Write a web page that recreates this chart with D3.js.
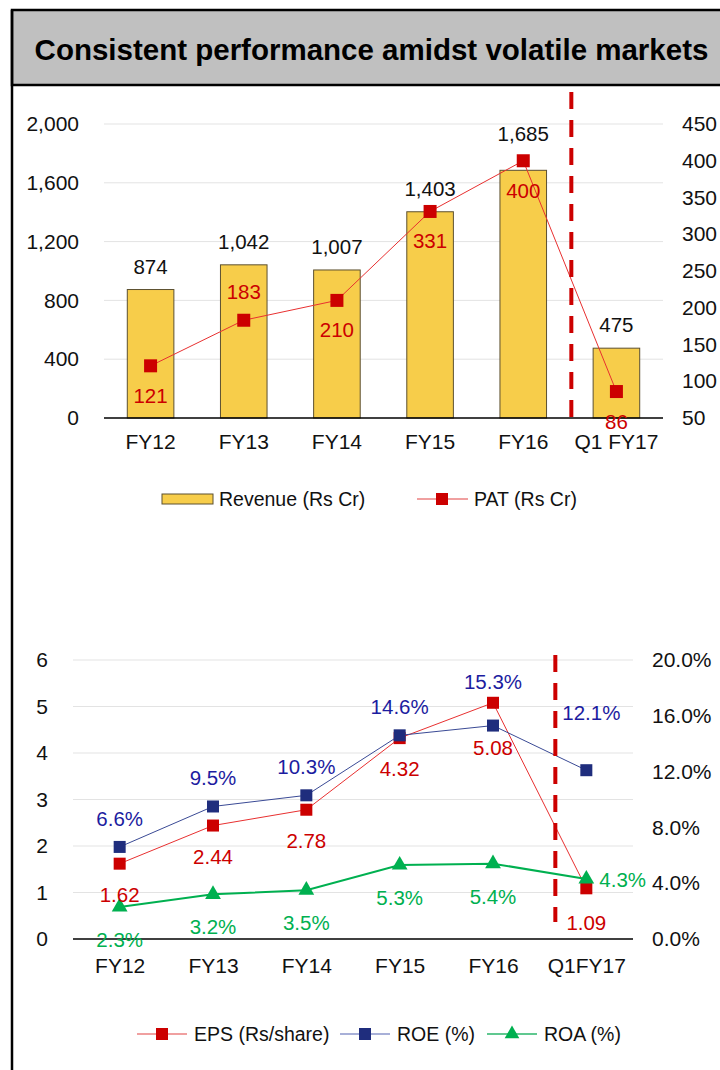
<!DOCTYPE html>
<html>
<head>
<meta charset="utf-8">
<script src="https://cdn.jsdelivr.net/npm/d3@7"></script>
<style>
  body { margin: 0; background: #fff; }
  text { font-family: "Liberation Sans", Arial, sans-serif; }
</style>
</head>
<body>
<div id="chart"></div>
<script>
// data
var titleText = "Consistent performance amidst volatile markets";

var topCats = ["FY12", "FY13", "FY14", "FY15", "FY16", "Q1 FY17"];
var revenue = [874, 1042, 1007, 1403, 1685, 475];
var pat = [121, 183, 210, 331, 400, 86];
var revTicks = [0, 400, 800, 1200, 1600, 2000];
var patTicks = [50, 100, 150, 200, 250, 300, 350, 400, 450];

var botCats = ["FY12", "FY13", "FY14", "FY15", "FY16", "Q1FY17"];
var eps = [1.62, 2.44, 2.78, 4.32, 5.08, 1.09];
var roe = [6.6, 9.5, 10.3, 14.6, 15.3, 12.1];
var roa = [2.3, 3.2, 3.5, 5.3, 5.4, 4.3];
var epsTicks = [0, 1, 2, 3, 4, 5, 6];
var pctTicks = [0, 4, 8, 12, 16, 20];

var RED = "#cc0000", NAVY = "#1f2d7d", GREEN = "#00b050", YELLOW = "#f7cd4a";

var svg = d3.select("#chart").append("svg")
  .attr("width", 720)
  .attr("height", 1070)
  .style("display", "block");

svg.append("rect").attr("width", 720).attr("height", 1070).attr("fill", "#fff");

// frame + title box
svg.append("rect")
  .attr("x", 12).attr("y", 10)
  .attr("width", 720).attr("height", 75)
  .attr("fill", "#c0c0c0")
  .attr("stroke", "#000").attr("stroke-width", 2.5);
svg.append("line")
  .attr("x1", 12).attr("x2", 12).attr("y1", 10).attr("y2", 1070)
  .attr("stroke", "#000").attr("stroke-width", 2.5);
svg.append("text")
  .attr("x", 371.5).attr("y", 60)
  .attr("text-anchor", "middle")
  .style("font-size", "29.5px")
  .style("font-weight", "bold")
  .attr("fill", "#000")
  .text(titleText);

function square(g, cx, cy, size, color) {
  g.append("rect")
    .attr("x", cx - size / 2).attr("y", cy - size / 2)
    .attr("width", size).attr("height", size)
    .attr("fill", color);
}
function triangle(g, cx, cy, size, color) {
  g.append("path")
    .attr("d", d3.symbol().type(d3.symbolTriangle).size(size * size * 0.55)())
    .attr("transform", "translate(" + cx + "," + cy + ")")
    .attr("fill", color);
}
function dashedDivider(x, y1, y2) {
  svg.append("line")
    .attr("x1", x).attr("x2", x).attr("y1", y1).attr("y2", y2)
    .attr("stroke", RED).attr("stroke-width", 4)
    .attr("stroke-dasharray", "17,11");
}

// ---------- top chart: revenue bars + PAT line ----------
var t = svg.append("g");
var xT = d3.scaleBand().domain(topCats).range([104, 663]).paddingInner(0.5).paddingOuter(0.25);
var yRev = d3.scaleLinear().domain([0, 2000]).range([418, 124]);
var yPat = d3.scaleLinear().domain([50, 450]).range([418, 124]);
var cx = function (c) { return xT(c) + xT.bandwidth() / 2; };

t.selectAll(".grid").data(revTicks.slice(1)).enter().append("line")
  .attr("x1", 104).attr("x2", 663)
  .attr("y1", function (d) { return yRev(d); }).attr("y2", function (d) { return yRev(d); })
  .attr("stroke", "#e3e3e3").attr("stroke-width", 1);

t.selectAll(".bar").data(revenue).enter().append("rect")
  .attr("x", function (d, i) { return xT(topCats[i]); })
  .attr("y", function (d) { return yRev(d); })
  .attr("width", xT.bandwidth())
  .attr("height", function (d) { return yRev(0) - yRev(d); })
  .attr("fill", YELLOW)
  .attr("stroke", "#5c5030").attr("stroke-width", 1);

t.append("line").attr("x1", 104).attr("x2", 663).attr("y1", 418).attr("y2", 418)
  .attr("stroke", "#000").attr("stroke-width", 1.5);

// axes
var axL = t.append("g").attr("transform", "translate(79,0)")
  .call(d3.axisLeft(yRev).tickValues(revTicks).tickSize(0).tickPadding(0).tickFormat(d3.format(",")));
var axR = t.append("g").attr("transform", "translate(682,0)")
  .call(d3.axisRight(yPat).tickValues(patTicks).tickSize(0).tickPadding(0).tickFormat(d3.format("d")));
var axB = t.append("g").attr("transform", "translate(0,418)")
  .call(d3.axisBottom(xT).tickSize(0).tickPadding(16));
[axL, axR, axB].forEach(function (a) {
  a.select(".domain").remove();
  a.selectAll("text").style("font-size", "21px").attr("fill", "#111").style("font-family", "Liberation Sans, Arial, sans-serif");
});

dashedDivider((cx("FY16") + cx("Q1 FY17")) / 2 + 1.5, 92, 428);

// revenue labels
t.selectAll(".revlab").data(revenue).enter().append("text")
  .attr("x", function (d, i) { return cx(topCats[i]); })
  .attr("y", function (d, i) { return yRev(d) - (topCats[i] === "FY16" ? 36 : 23) + 7; })
  .attr("text-anchor", "middle")
  .style("font-size", "20.5px")
  .attr("fill", "#111")
  .text(d3.format(","));

// PAT line + markers
var patLine = d3.line()
  .x(function (d, i) { return cx(topCats[i]); })
  .y(function (d) { return yPat(d); });
t.append("path").datum(pat)
  .attr("d", patLine)
  .attr("fill", "none").attr("stroke", "#e83030").attr("stroke-width", 1);
pat.forEach(function (d, i) { square(t, cx(topCats[i]), yPat(d), 13, RED); });

t.selectAll(".patlab").data(pat).enter().append("text")
  .attr("x", function (d, i) { return cx(topCats[i]); })
  .attr("y", function (d, i) { return yPat(d) + (topCats[i] === "FY13" ? -28 : 30) + 7; })
  .attr("text-anchor", "middle")
  .style("font-size", "20.5px")
  .attr("fill", RED)
  .text(function (d) { return d; });

// legend 1
var lg1 = svg.append("g");
lg1.append("rect").attr("x", 162).attr("y", 494).attr("width", 51).attr("height", 10)
  .attr("fill", YELLOW).attr("stroke", "#5c5030").attr("stroke-width", 1);
lg1.append("text").attr("x", 219).attr("y", 506).style("font-size", "19.5px").attr("fill", "#111")
  .text("Revenue (Rs Cr)");
lg1.append("line").attr("x1", 417).attr("x2", 468).attr("y1", 499).attr("y2", 499)
  .attr("stroke", "#f0a0a0").attr("stroke-width", 2);
square(lg1, 442, 499, 12, RED);
lg1.append("text").attr("x", 474).attr("y", 506).style("font-size", "19.5px").attr("fill", "#111")
  .text("PAT (Rs Cr)");

// ---------- bottom chart: EPS / ROE / ROA ----------
var b = svg.append("g");
var xB = d3.scalePoint().domain(botCats).range([73, 633]).padding(0.5);
var yEps = d3.scaleLinear().domain([0, 6]).range([939, 660]);
var yPct = d3.scaleLinear().domain([0, 20]).range([939, 660]);

b.selectAll(".grid").data(epsTicks.slice(1)).enter().append("line")
  .attr("x1", 73).attr("x2", 633)
  .attr("y1", function (d) { return yEps(d); }).attr("y2", function (d) { return yEps(d); })
  .attr("stroke", "#e3e3e3").attr("stroke-width", 1);
b.append("line").attr("x1", 73).attr("x2", 633).attr("y1", 939).attr("y2", 939)
  .attr("stroke", "#000").attr("stroke-width", 1.5);

var bL = b.append("g").attr("transform", "translate(48,0)")
  .call(d3.axisLeft(yEps).tickValues(epsTicks).tickSize(0).tickPadding(0).tickFormat(d3.format("d")));
var bR = b.append("g").attr("transform", "translate(652,0)")
  .call(d3.axisRight(yPct).tickValues(pctTicks).tickSize(0).tickPadding(0)
    .tickFormat(function (d) { return d.toFixed(1) + "%"; }));
var bB = b.append("g").attr("transform", "translate(0,939)")
  .call(d3.axisBottom(xB).tickSize(0).tickPadding(19));
[bL, bR, bB].forEach(function (a) {
  a.select(".domain").remove();
  a.selectAll("text").style("font-size", "21px").attr("fill", "#111").style("font-family", "Liberation Sans, Arial, sans-serif");
});

dashedDivider(xB("Q1FY17") - 31, 655, 922);

function seriesLine(vals, yScale, color, width) {
  b.append("path").datum(vals)
    .attr("d", d3.line().x(function (d, i) { return xB(botCats[i]); }).y(function (d) { return yScale(d); }))
    .attr("fill", "none").attr("stroke", color).attr("stroke-width", width);
}
seriesLine(eps, yEps, "#e83030", 1);
eps.forEach(function (d, i) { square(b, xB(botCats[i]), yEps(d), 12, RED); });
seriesLine(roe, yPct, "#3a4a95", 1);
roe.forEach(function (d, i) { square(b, xB(botCats[i]), yPct(d), 12, NAVY); });
seriesLine(roa, yPct, GREEN, 2);
roa.forEach(function (d, i) { triangle(b, xB(botCats[i]), yPct(d), 14, GREEN); });

// data labels
function labels(vals, yScale, color, fmt, place) {
  vals.forEach(function (d, i) {
    var p = place(botCats[i]);
    b.append("text")
      .attr("x", xB(botCats[i]) + (p.dx || 0))
      .attr("y", yScale(d) + p.dy + 7)
      .attr("text-anchor", p.anchor || "middle")
      .style("font-size", "20.5px")
      .attr("fill", color)
      .text(fmt(d));
  });
}
labels(eps, yEps, RED, function (d) { return d.toFixed(2); }, function (c) {
  if (c === "FY16") return { dy: 45 };
  if (c === "Q1FY17") return { dy: 35 };
  return { dy: 31 };
});
labels(roe, yPct, "#1c1ca0", function (d) { return d.toFixed(1) + "%"; }, function (c) {
  if (c === "FY16") return { dy: -44 };
  if (c === "Q1FY17") return { dy: -57, dx: 5 };
  return { dy: -28 };
});
labels(roa, yPct, GREEN, function (d) { return d.toFixed(1) + "%"; }, function (c) {
  if (c === "Q1FY17") return { dy: 1, dx: 13, anchor: "start" };
  return { dy: 33 };
});

// legend 2
var lg2 = svg.append("g");
function legendItem(x1, label, color, lineColor, marker) {
  lg2.append("line").attr("x1", x1).attr("x2", x1 + 50).attr("y1", 1034).attr("y2", 1034)
    .attr("stroke", lineColor).attr("stroke-width", 2);
  if (marker === "tri") triangle(lg2, x1 + 25, 1034, 13, color);
  else square(lg2, x1 + 25, 1034, 12, color);
  lg2.append("text").attr("x", x1 + 57).attr("y", 1041).style("font-size", "19.5px").attr("fill", "#111")
    .text(label);
}
legendItem(137, "EPS (Rs/share)", RED, "#f0a0a0", "sq");
legendItem(340, "ROE (%)", NAVY, "#a8b0d8", "sq");
legendItem(487, "ROA (%)", GREEN, "#60c890", "tri");
</script>
</body>
</html>
